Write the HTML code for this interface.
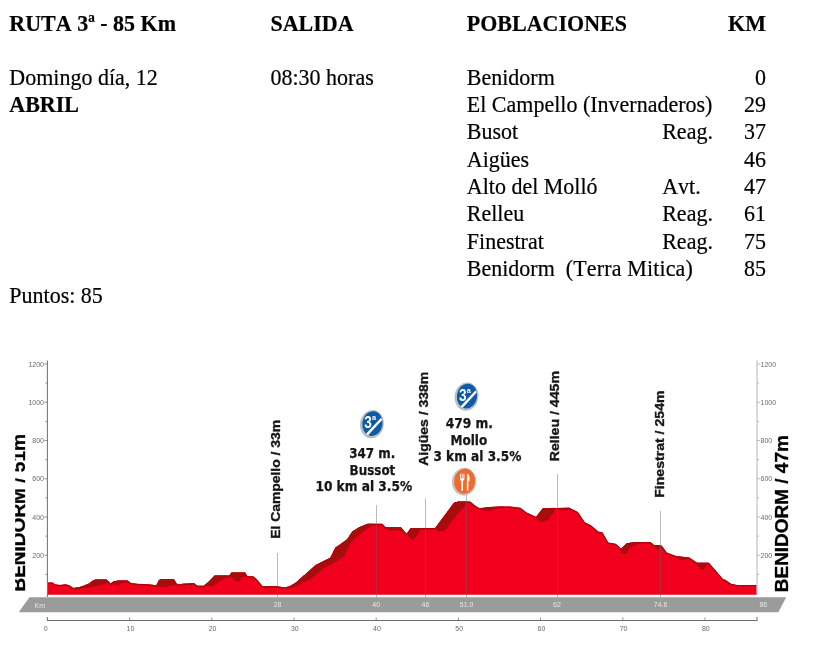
<!DOCTYPE html>
<html><head><meta charset="utf-8"><title>Ruta 3</title>
<style>
html,body{margin:0;padding:0;background:#fff;}
body{width:813px;height:651px;position:relative;overflow:hidden;font-family:"Liberation Serif",serif;color:#000;}
.t{position:absolute;font-size:22px;line-height:25px;white-space:nowrap;transform:scaleY(1.08);transform-origin:0 20.2px;-webkit-text-stroke:0.2px #000;font-kerning:none;font-variant-ligatures:none;}
svg text{font-family:"Liberation Sans",sans-serif;}
.ax{font-size:7px;fill:#6a6a6a;}
.bd{font-size:7px;fill:#e6e6e6;}
.rl{font-size:13.5px;font-weight:bold;fill:#151515;stroke:#151515;stroke-width:0.35px;}
.bl{font-size:17.6px;font-weight:bold;fill:#000;stroke:#000;stroke-width:0.3px;}
svg text.ct{font-family:"DejaVu Sans Condensed","DejaVu Sans",sans-serif;font-weight:bold;font-size:13.5px;fill:#181818;stroke:#181818;stroke-width:0.25px;}
</style></head><body>
<div class="t" style="top:11.10px;left:9.3px;font-weight:bold;">RUTA 3ª - 85 Km</div>
<div class="t" style="top:11.10px;left:270.5px;font-weight:bold;">SALIDA</div>
<div class="t" style="top:11.10px;left:466.8px;font-weight:bold;">POBLACIONES</div>
<div class="t" style="top:11.10px;right:47.0px;font-weight:bold;">KM</div>
<div class="t" style="top:64.70px;left:9.3px;">Domingo día, 12</div>
<div class="t" style="top:92.03px;left:9.3px;font-weight:bold;">ABRIL</div>
<div class="t" style="top:64.70px;left:270.5px;">08:30 horas</div>
<div class="t" style="top:64.70px;left:466.8px;">Benidorm</div>
<div class="t" style="top:64.70px;right:47.0px;">0</div>
<div class="t" style="top:92.03px;left:466.8px;">El Campello (Invernaderos)</div>
<div class="t" style="top:92.03px;right:47.0px;">29</div>
<div class="t" style="top:119.36px;left:466.8px;">Busot</div>
<div class="t" style="top:119.36px;left:662.2px;">Reag.</div>
<div class="t" style="top:119.36px;right:47.0px;">37</div>
<div class="t" style="top:146.69px;left:466.8px;">Aigües</div>
<div class="t" style="top:146.69px;right:47.0px;">46</div>
<div class="t" style="top:174.02px;left:466.8px;">Alto del Molló</div>
<div class="t" style="top:174.02px;left:662.2px;">Avt.</div>
<div class="t" style="top:174.02px;right:47.0px;">47</div>
<div class="t" style="top:201.35px;left:466.8px;">Relleu</div>
<div class="t" style="top:201.35px;left:662.2px;">Reag.</div>
<div class="t" style="top:201.35px;right:47.0px;">61</div>
<div class="t" style="top:228.68px;left:466.8px;">Finestrat</div>
<div class="t" style="top:228.68px;left:662.2px;">Reag.</div>
<div class="t" style="top:228.68px;right:47.0px;">75</div>
<div class="t" style="top:256.01px;left:466.8px;">Benidorm&nbsp; <span style="letter-spacing:0.14px">(Terra Mitica)</span></div>
<div class="t" style="top:256.01px;right:47.0px;">85</div>
<div class="t" style="top:283.34px;left:9.3px;">Puntos: 85</div>
<svg width="813" height="651" viewBox="0 0 813 651" style="position:absolute;left:0;top:0">
<defs><filter id="soft" x="0" y="0" width="813" height="651" filterUnits="userSpaceOnUse"><feGaussianBlur stdDeviation="0.45"/></filter></defs>
<g filter="url(#soft)">
<polygon points="29.4,597.3 786.2,597.3 778.4,612.3 18.8,612.3" fill="#999c9a"/>
<polygon points="47.4,594.8 47.6,582.4 52.3,582.4 54.8,584.3 59.7,584.9 65.8,584.3 69.5,585.5 73.2,588.0 78.1,587.4 83.1,586.1 89.2,583.7 92.9,580.6 95.4,579.6 106.4,579.6 108.9,581.8 110.7,583.7 113.8,581.2 118.7,580.6 127.3,580.6 131.0,583.1 137.4,583.7 148.5,584.3 156.4,585.3 158.9,580.6 160.8,579.1 173.7,579.1 176.1,583.1 178.0,584.5 182.9,583.7 194.0,583.3 197.0,585.5 203.8,585.8 208.7,581.8 214.9,575.4 229.7,575.4 231.5,572.6 245.1,572.6 246.9,575.9 253.1,576.3 256.7,579.4 262.3,586.1 276.4,586.1 278.9,586.5 285.0,587.4 290.0,586.1 296.1,582.4 303.5,575.7 305.2,574.5 315.4,565.2 323.8,561.0 330.6,557.6 335.6,547.5 340.7,544.1 347.5,539.0 352.5,531.4 359.3,527.2 367.7,523.8 382.1,523.8 385.5,527.2 400.7,527.2 406.6,533.9 411.0,528.0 425.4,528.0 435.5,528.0 439.7,522.1 447.3,512.0 454.1,502.7 458.3,501.5 470.1,501.5 474.4,505.2 479.4,508.3 489.6,506.9 501.4,506.4 510.0,506.4 520.1,507.7 526.9,512.8 536.2,517.0 543.0,508.3 569.2,507.7 577.6,512.0 584.4,522.1 591.1,525.5 597.9,531.4 602.1,532.3 608.0,542.4 615.6,543.7 621.5,549.2 626.8,543.2 635.2,542.1 650.4,542.1 653.8,544.9 661.4,545.4 666.5,552.5 675.8,555.9 689.3,557.6 696.9,562.7 708.7,562.7 714.6,569.4 723.1,579.6 724.6,579.4 730.8,583.7 736.9,584.9 756.6,584.9 756.8,594.8" fill="#f0031a"/>
<polyline points="47.6,583.1 52.3,583.1 54.8,585.0 59.7,585.6 65.8,585.0 69.5,586.2 73.2,588.7 78.1,588.1 83.1,586.8000000000001 89.2,584.4000000000001 92.9,581.3000000000001 95.4,580.3000000000001 106.4,580.3000000000001 108.9,582.5 110.7,584.4000000000001 113.8,581.9000000000001 118.7,581.3000000000001 127.3,581.3000000000001 131.0,583.8000000000001 137.4,584.4000000000001 148.5,585.0 156.4,586.0 158.9,581.3000000000001 160.8,579.8000000000001 173.7,579.8000000000001 176.1,583.8000000000001 178.0,585.2 182.9,584.4000000000001 194.0,584.0 197.0,586.2 203.8,586.5 208.7,582.5 214.9,576.1 229.7,576.1 231.5,573.3000000000001 245.1,573.3000000000001 246.9,576.6 253.1,577.0 256.7,580.1 262.3,586.8000000000001 276.4,586.8000000000001 278.9,587.2 285.0,588.1 290.0,586.8000000000001 296.1,583.1 303.5,576.4000000000001 305.2,575.2 315.4,565.9000000000001 323.8,561.7 330.6,558.3000000000001 335.6,548.2 340.7,544.8000000000001 347.5,539.7 352.5,532.1 359.3,527.9000000000001 367.7,524.5 382.1,524.5 385.5,527.9000000000001 400.7,527.9000000000001 406.6,534.6 411.0,528.7 425.4,528.7 435.5,528.7 439.7,522.8000000000001 447.3,512.7 454.1,503.4 458.3,502.2 470.1,502.2 474.4,505.9 479.4,509.0 489.6,507.59999999999997 501.4,507.09999999999997 510.0,507.09999999999997 520.1,508.4 526.9,513.5 536.2,517.7 543.0,509.0 569.2,508.4 577.6,512.7 584.4,522.8000000000001 591.1,526.2 597.9,532.1 602.1,533.0 608.0,543.1 615.6,544.4000000000001 621.5,549.9000000000001 626.8,543.9000000000001 635.2,542.8000000000001 650.4,542.8000000000001 653.8,545.6 661.4,546.1 666.5,553.2 675.8,556.6 689.3,558.3000000000001 696.9,563.4000000000001 708.7,563.4000000000001 714.6,570.1 723.1,580.3000000000001 724.6,580.1 730.8,584.4000000000001 736.9,585.6 756.6,585.6" fill="none" stroke="#b0060e" stroke-width="1.4" stroke-linejoin="round"/>
<polygon points="73.2,588.0 80.6,586.7 89.2,583.3 92.9,580.6 95.4,579.6 106.4,579.6 108.5,581.8 107.0,583.1 99.0,585.8 89.2,587.6 76.9,588.8" fill="#a8080c"/>
<polygon points="110.7,583.7 113.8,581.2 118.7,580.6 127.3,580.6 130.4,582.8 126.1,582.4 121.2,583.1 118.7,584.9 113.8,584.3" fill="#a8080c"/>
<polygon points="157.4,586.6 158.6,580.7 159.8,579.2 174.0,579.2 176.6,584.3 174.5,584.9 169.6,586.0 164.7,586.7" fill="#a8080c"/>
<polygon points="178.0,584.5 182.9,583.7 194.0,583.3 196.4,585.3 191.5,584.5 181.7,585.1" fill="#a8080c"/>
<polygon points="203.8,585.8 208.8,581.8 214.9,575.4 229.7,575.4 230.3,576.9 223.5,578.7 217.4,582.4 212.5,586.5" fill="#a8080c"/>
<polygon points="230.3,575.7 231.5,572.6 245.1,572.6 246.7,575.7 242.0,576.9 238.9,581.8 234.6,580.6 232.1,576.9" fill="#a8080c"/>
<polygon points="262.3,586.1 276.4,586.1 277.0,587.4 262.9,587.4" fill="#a8080c"/>
<polygon points="284.9,587.5 290.0,586.2 296.1,582.4 303.5,575.7 305.2,574.5 315.4,565.2 323.8,561.0 330.6,557.6 335.6,547.5 340.7,544.1 347.5,539.0 352.5,531.4 359.3,527.2 367.7,523.8 374.5,523.8 372.8,525.0 366.1,529.2 357.6,536.0 350.8,542.7 344.1,556.2 333.9,563.0 323.8,568.1 312.0,578.2 300.1,584.3 290.0,588.2 284.9,588.2" fill="#a8080c"/>
<polygon points="385.5,527.2 400.7,527.2 404.1,531.4 398.2,530.2 389.7,530.6" fill="#a8080c"/>
<polygon points="406.8,533.6 411.0,528.0 422.0,528.0 416.9,535.6 412.7,539.9 409.3,537.3" fill="#a8080c"/>
<polygon points="434.6,528.5 439.7,522.1 447.3,512.0 454.1,502.7 458.3,501.5 466.2,501.5 465.1,505.5 459.2,512.3 450.7,522.4 445.6,530.1 438.9,531.7" fill="#a8080c"/>
<polygon points="480.8,508.3 489.6,506.9 501.4,506.4 504.8,506.9 494.6,509.1 487.9,511.3 484.5,510.4" fill="#a8080c"/>
<polygon points="536.2,517.0 543.0,508.3 554.8,507.7 553.9,512.0 548.0,519.6 542.1,522.1 538.7,520.8" fill="#a8080c"/>
<polygon points="558.2,508.1 569.2,507.7 571.7,509.4 559.0,510.3" fill="#a8080c"/>
<polygon points="621.5,549.2 626.6,544.1 630.0,543.2 636.8,542.4 634.2,543.7 628.3,548.3 626.6,554.2 623.2,552.9" fill="#a8080c"/>
<polygon points="620.0,549.2 626.8,543.2 635.2,542.1 638.6,543.2 630.1,547.5 625.1,553.7 621.7,552.9" fill="#a8080c"/>
<polygon points="653.8,544.9 660.6,545.4 658.9,550.0 655.5,548.6" fill="#a8080c"/>
<polygon points="676.6,556.4 687.6,557.6 684.2,560.1 679.2,559.5" fill="#a8080c"/>
<polygon points="696.9,562.7 707.9,562.7 704.5,568.6 701.1,569.4 698.6,566.4" fill="#a8080c"/>
<line x1="277.5" y1="553" x2="277.5" y2="597.5" stroke="#606060" stroke-opacity="0.42" stroke-width="1"/>
<line x1="376.5" y1="505" x2="376.5" y2="597.5" stroke="#606060" stroke-opacity="0.42" stroke-width="1"/>
<line x1="425.5" y1="498.5" x2="425.5" y2="597.5" stroke="#606060" stroke-opacity="0.42" stroke-width="1"/>
<line x1="466.5" y1="494" x2="466.5" y2="597.5" stroke="#606060" stroke-opacity="0.42" stroke-width="1"/>
<line x1="557.5" y1="474" x2="557.5" y2="597.5" stroke="#606060" stroke-opacity="0.42" stroke-width="1"/>
<line x1="660.5" y1="511" x2="660.5" y2="597.5" stroke="#606060" stroke-opacity="0.42" stroke-width="1"/>
<line x1="47.4" y1="360.5" x2="47.4" y2="597" stroke="#6e6e6e" stroke-width="1"/>
<line x1="757" y1="360.5" x2="757" y2="594" stroke="#b5b5b5" stroke-width="1"/>
<line x1="45.4" y1="574.4" x2="47.4" y2="574.4" stroke="#777" stroke-width="0.8"/>
<line x1="757" y1="574.4" x2="759" y2="574.4" stroke="#aaa" stroke-width="0.8"/>
<line x1="44.4" y1="555.2" x2="47.4" y2="555.2" stroke="#777" stroke-width="0.8"/>
<line x1="757" y1="555.2" x2="760" y2="555.2" stroke="#aaa" stroke-width="0.8"/>
<text x="44" y="557.7" text-anchor="end" class="ax">200</text>
<text x="760.5" y="557.7" text-anchor="start" class="ax">200</text>
<line x1="45.4" y1="536.1" x2="47.4" y2="536.1" stroke="#777" stroke-width="0.8"/>
<line x1="757" y1="536.1" x2="759" y2="536.1" stroke="#aaa" stroke-width="0.8"/>
<line x1="44.4" y1="517.0" x2="47.4" y2="517.0" stroke="#777" stroke-width="0.8"/>
<line x1="757" y1="517.0" x2="760" y2="517.0" stroke="#aaa" stroke-width="0.8"/>
<text x="44" y="519.5" text-anchor="end" class="ax">400</text>
<text x="760.5" y="519.5" text-anchor="start" class="ax">400</text>
<line x1="45.4" y1="497.9" x2="47.4" y2="497.9" stroke="#777" stroke-width="0.8"/>
<line x1="757" y1="497.9" x2="759" y2="497.9" stroke="#aaa" stroke-width="0.8"/>
<line x1="44.4" y1="478.8" x2="47.4" y2="478.8" stroke="#777" stroke-width="0.8"/>
<line x1="757" y1="478.8" x2="760" y2="478.8" stroke="#aaa" stroke-width="0.8"/>
<text x="44" y="481.3" text-anchor="end" class="ax">600</text>
<text x="760.5" y="481.3" text-anchor="start" class="ax">600</text>
<line x1="45.4" y1="459.6" x2="47.4" y2="459.6" stroke="#777" stroke-width="0.8"/>
<line x1="757" y1="459.6" x2="759" y2="459.6" stroke="#aaa" stroke-width="0.8"/>
<line x1="44.4" y1="440.5" x2="47.4" y2="440.5" stroke="#777" stroke-width="0.8"/>
<line x1="757" y1="440.5" x2="760" y2="440.5" stroke="#aaa" stroke-width="0.8"/>
<text x="44" y="443.0" text-anchor="end" class="ax">800</text>
<text x="760.5" y="443.0" text-anchor="start" class="ax">800</text>
<line x1="45.4" y1="421.4" x2="47.4" y2="421.4" stroke="#777" stroke-width="0.8"/>
<line x1="757" y1="421.4" x2="759" y2="421.4" stroke="#aaa" stroke-width="0.8"/>
<line x1="44.4" y1="402.2" x2="47.4" y2="402.2" stroke="#777" stroke-width="0.8"/>
<line x1="757" y1="402.2" x2="760" y2="402.2" stroke="#aaa" stroke-width="0.8"/>
<text x="44" y="404.7" text-anchor="end" class="ax">1000</text>
<text x="760.5" y="404.7" text-anchor="start" class="ax">1000</text>
<line x1="45.4" y1="383.1" x2="47.4" y2="383.1" stroke="#777" stroke-width="0.8"/>
<line x1="757" y1="383.1" x2="759" y2="383.1" stroke="#aaa" stroke-width="0.8"/>
<line x1="44.4" y1="364.0" x2="47.4" y2="364.0" stroke="#777" stroke-width="0.8"/>
<line x1="757" y1="364.0" x2="760" y2="364.0" stroke="#aaa" stroke-width="0.8"/>
<text x="44" y="366.5" text-anchor="end" class="ax">1200</text>
<text x="760.5" y="366.5" text-anchor="start" class="ax">1200</text>
<line x1="47.2" y1="620.5" x2="757" y2="620.5" stroke="#6e6e6e" stroke-width="1"/>
<line x1="47.4" y1="617" x2="47.4" y2="621" stroke="#6e6e6e" stroke-width="1"/>
<line x1="757" y1="617" x2="757" y2="621" stroke="#6e6e6e" stroke-width="1"/>
<text x="45.8" y="630.7" text-anchor="middle" class="ax">0</text>
<line x1="129.6" y1="617.5" x2="129.6" y2="620.5" stroke="#777" stroke-width="0.8"/>
<text x="130.4" y="630.7" text-anchor="middle" class="ax">10</text>
<line x1="211.8" y1="617.5" x2="211.8" y2="620.5" stroke="#777" stroke-width="0.8"/>
<text x="212.60000000000002" y="630.7" text-anchor="middle" class="ax">20</text>
<line x1="294.0" y1="617.5" x2="294.0" y2="620.5" stroke="#777" stroke-width="0.8"/>
<text x="294.8" y="630.7" text-anchor="middle" class="ax">30</text>
<line x1="376.2" y1="617.5" x2="376.2" y2="620.5" stroke="#777" stroke-width="0.8"/>
<text x="377.0" y="630.7" text-anchor="middle" class="ax">40</text>
<line x1="458.4" y1="617.5" x2="458.4" y2="620.5" stroke="#777" stroke-width="0.8"/>
<text x="459.2" y="630.7" text-anchor="middle" class="ax">50</text>
<line x1="540.6" y1="617.5" x2="540.6" y2="620.5" stroke="#777" stroke-width="0.8"/>
<text x="541.4" y="630.7" text-anchor="middle" class="ax">60</text>
<line x1="622.8" y1="617.5" x2="622.8" y2="620.5" stroke="#777" stroke-width="0.8"/>
<text x="623.5999999999999" y="630.7" text-anchor="middle" class="ax">70</text>
<line x1="705.0" y1="617.5" x2="705.0" y2="620.5" stroke="#777" stroke-width="0.8"/>
<text x="705.8" y="630.7" text-anchor="middle" class="ax">80</text>
<text x="277.6" y="607" text-anchor="middle" class="bd">28</text>
<text x="376.2" y="607" text-anchor="middle" class="bd">40</text>
<text x="425.5" y="607" text-anchor="middle" class="bd">46</text>
<text x="466.6" y="607" text-anchor="middle" class="bd">51.0</text>
<text x="557.0" y="607" text-anchor="middle" class="bd">62</text>
<text x="660.6" y="607" text-anchor="middle" class="bd">74.6</text>
<text x="763.3" y="607" text-anchor="middle" class="bd">86</text>
<text x="39.8" y="607.8" text-anchor="middle" class="bd">Km</text>
<text transform="translate(280.4,538.8) rotate(-90)" class="rl" textLength="118.9" lengthAdjust="spacingAndGlyphs">El Campello / 33m</text>
<text transform="translate(427.6,465.8) rotate(-90)" class="rl" textLength="94.0" lengthAdjust="spacingAndGlyphs">Aigües / 338m</text>
<text transform="translate(558.5,461.3) rotate(-90)" class="rl" textLength="90.3" lengthAdjust="spacingAndGlyphs">Relleu / 445m</text>
<text transform="translate(663.6,497.8) rotate(-90)" class="rl" textLength="107.3" lengthAdjust="spacingAndGlyphs">Finestrat / 254m</text>
<clipPath id="ic"><ellipse cx="0" cy="0" rx="10.1" ry="12.5"/></clipPath>
<clipPath id="lc"><rect x="15.2" y="355" width="30" height="240"/></clipPath>
<g clip-path="url(#lc)">
<text transform="translate(25.4,591.6) rotate(-90)" class="bl" textLength="157.5" lengthAdjust="spacingAndGlyphs">BENIDORM / 51m</text>
</g>
<text transform="translate(787.9,592.2) rotate(-90)" class="bl" textLength="157" lengthAdjust="spacingAndGlyphs">BENIDORM / 47m</text>
<text x="349.2" y="458.3" textLength="46.1" lengthAdjust="spacingAndGlyphs" class="ct">347 m.</text>
<text x="349.6" y="474.5" textLength="45.7" lengthAdjust="spacingAndGlyphs" class="ct">Bussot</text>
<text x="315.4" y="490.8" textLength="96.8" lengthAdjust="spacingAndGlyphs" class="ct">10 km al 3.5%</text>
<text x="445.7" y="428.2" textLength="47.3" lengthAdjust="spacingAndGlyphs" class="ct">479 m.</text>
<text x="450.4" y="444.7" textLength="36.8" lengthAdjust="spacingAndGlyphs" class="ct">Mollo</text>
<text x="433.4" y="461.3" textLength="88.0" lengthAdjust="spacingAndGlyphs" class="ct">3 km al 3.5%</text>
<g transform="translate(372.4,423.6) rotate(8)"><ellipse cx="-0.4" cy="0.6" rx="11.9" ry="14.2" fill="#b9bec6"/><ellipse cx="0" cy="0" rx="10.1" ry="12.5" fill="#0d5aa7"/><g clip-path="url(#ic)"><g transform="rotate(-8)"><text transform="translate(-8.1,4.4) scale(0.8,1)" font-weight="bold" font-size="17" fill="#fff">3</text><text x="-0.3" y="-3.6" font-weight="bold" font-size="7.4" fill="#fff">a</text><path d="M-8.6,12.6 L-6.8,14.4 L10.2,-4.0 L8.4,-5.7 Z" fill="#fff"/></g></g></g>
<g transform="translate(467.0,396.1) rotate(8)"><ellipse cx="-0.4" cy="0.6" rx="11.9" ry="14.2" fill="#b9bec6"/><ellipse cx="0" cy="0" rx="10.1" ry="12.5" fill="#0d5aa7"/><g clip-path="url(#ic)"><g transform="rotate(-8)"><text transform="translate(-8.1,4.4) scale(0.8,1)" font-weight="bold" font-size="17" fill="#fff">3</text><text x="-0.3" y="-3.6" font-weight="bold" font-size="7.4" fill="#fff">a</text><path d="M-8.6,12.6 L-6.8,14.4 L10.2,-4.0 L8.4,-5.7 Z" fill="#fff"/></g></g></g>
<g transform="translate(464.6,481.2) rotate(6)"><ellipse cx="-0.5" cy="0.5" rx="12.1" ry="14" fill="#c9bfc3"/><ellipse cx="0" cy="0" rx="10.4" ry="12.5" fill="#f2692a"/><g transform="rotate(-6)"><path d="M-4.6,-7.5 v5.4 a1.9,1.9 0 0 0 1.4,1.8 v9.8 h1.6 v-9.8 a1.9,1.9 0 0 0 1.4,-1.8 v-5.4 h-0.9 v4.9 h-0.85 v-4.9 h-0.9 v4.9 h-0.85 v-4.9 z" fill="#fff"/><path d="M2.4,-7.6 c2.6,0.6 3,4.6 2.5,7.6 h-1.1 v9.5 h-1.6 z" fill="#fff"/></g></g>
</g>
</svg>
</body></html>
